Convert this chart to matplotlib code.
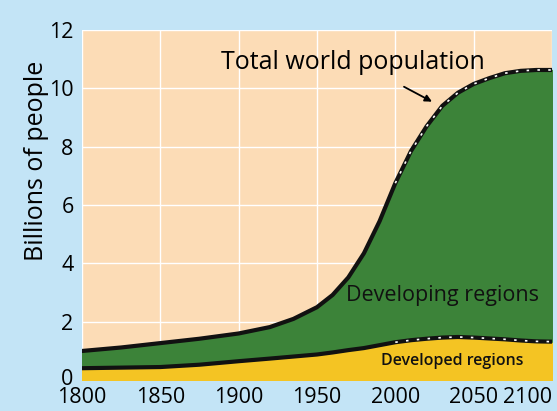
import numpy as np
import matplotlib
matplotlib.use('agg')
import matplotlib.pyplot as plt
import matplotlib.transforms as mtransforms

# values (billions)
years = [1800, 1825, 1850, 1875, 1900, 1920, 1935, 1950, 1960, 1970, 1980,
         1990, 2000, 2010, 2020, 2030, 2040, 2050, 2060, 2070, 2080, 2090, 2100]
total = [1.0, 1.12, 1.27, 1.42, 1.6, 1.82, 2.1, 2.5, 2.92, 3.52, 4.35,
         5.45, 6.75, 7.85, 8.7, 9.4, 9.85, 10.15, 10.35, 10.52, 10.6, 10.63, 10.63]
developed = [0.41, 0.43, 0.45, 0.53, 0.65, 0.74, 0.81, 0.88, 0.95, 1.03, 1.1,
             1.2, 1.3, 1.37, 1.42, 1.46, 1.48, 1.46, 1.43, 1.4, 1.36, 1.33, 1.32]
projection_start = 2000

xticks = [1800, 1850, 1900, 1950, 2000, 2050, 2100]
yticks = [0, 2, 4, 6, 8, 10, 12]

bg_blue = '#c3e4f6'
peach = '#fcdcb6'
green = '#3c8339'
yellow = '#f4c423'

plt.rcParams['font.family'] = ['Open Sans', 'DejaVu Sans']

x = np.array(years)
tot = np.array(total)
dev = np.array(developed)

fig = plt.figure(figsize=(5.57, 4.11), dpi=100, facecolor=bg_blue)
ax = fig.add_axes([0.147, 0.075, 0.844, 0.852])
ax.set_facecolor(peach)

ax.fill_between(x, 0, dev, color=yellow, zorder=2)
ax.fill_between(x, dev, tot, color=green, zorder=2)
ax.plot(x, tot, color='#111111', lw=3, zorder=3, solid_capstyle='butt', solid_joinstyle='round')
ax.plot(x, dev, color='#111111', lw=3, zorder=3, solid_capstyle='butt', solid_joinstyle='round')

# projected part: white dashes on top of the black lines
proj = x >= projection_start
ax.plot(x[proj], tot[proj], color='white', lw=1.2, dashes=(1.5, 5), zorder=4)
ax.plot(x[proj], dev[proj], color='white', lw=1.2, dashes=(1.5, 5), zorder=4)

ax.set_xlim(1800, 2100)
ax.set_ylim(0, 12)
ax.set_xticks(xticks)
ax.set_yticks(yticks)
ax.set_xticklabels([str(t) for t in xticks])
ax.grid(True, color='white', lw=1.0, zorder=1)
ax.set_axisbelow(True)
for s in ax.spines.values():
    s.set_visible(False)

ax.tick_params(axis='x', direction='in', length=4, color='white', labelsize=15.5, pad=5, zorder=5)
ax.tick_params(axis='y', length=0, labelsize=15.5, pad=6)
ax.get_xticklabels()[-1].set_horizontalalignment('right')
# lift the "0" a little so it clears "1800"
zero = ax.get_yticklabels()[0]
zero.set_transform(zero.get_transform() + mtransforms.ScaledTranslation(0, 3 / 100, fig.dpi_scale_trans))

ax.set_ylabel('Billions of people', fontsize=18)
ax.yaxis.set_label_coords(-0.071, 0.625)

ax.text(1973, 10.9, 'Total world population', fontsize=18, ha='center', va='center', zorder=6)
ax.annotate('', xy=(2025, 9.5), xytext=(2004, 10.1),
            arrowprops=dict(arrowstyle='-|>', color='black', lw=1.3, mutation_scale=10), zorder=6)
ax.text(2030, 2.9, 'Developing regions', fontsize=15.5, ha='center', va='center',
        color='#111111', zorder=6)
ax.text(2036, 0.65, 'Developed regions', fontsize=11.5, ha='center', va='center',
        color='#111111', weight='semibold', zorder=6)

fig.savefig('out.png', dpi=100, facecolor=bg_blue)
